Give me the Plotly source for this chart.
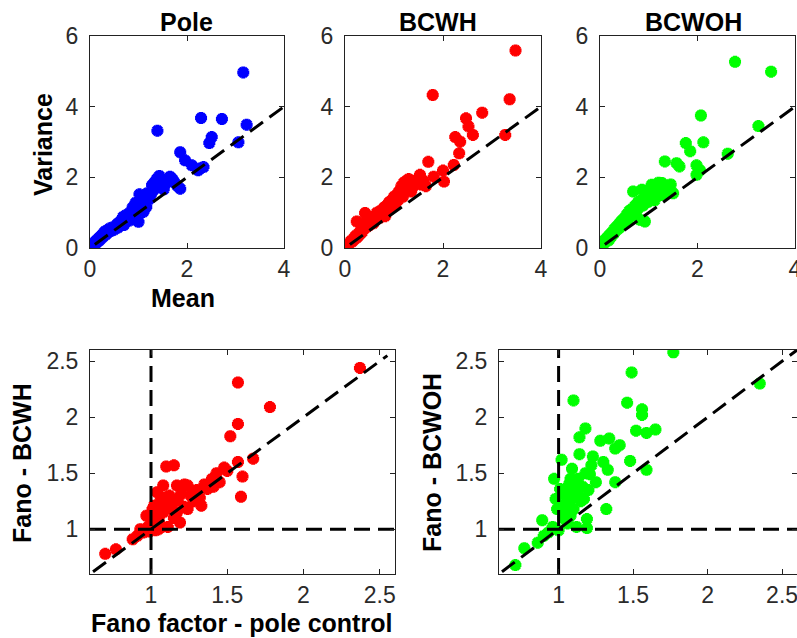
import plotly.graph_objects as go

W, H = 797, 638

# ---------------- data ----------------
pole_mean = [0.00,0.03,0.05,0.07,0.09,0.10,0.12,0.14,0.16,0.18,0.20,0.22,0.24,0.26,0.28,0.30,0.33,0.35,0.38,0.40,
             0.43,0.46,0.50,0.53,0.56,0.58,0.62,0.65,0.68,0.70,0.73,0.76,0.80,0.82,0.86,0.88,0.90,0.94,0.97,1.00,
             1.02,1.05,1.08,1.10,1.12,1.16,1.18,1.22,1.25,1.28,1.30,1.33,1.36,1.38,1.40,1.43,1.46,1.48,1.52,1.56,
             1.60,1.65,1.70,1.74,1.80,1.86,1.39,1.86,1.96,2.10,2.27,2.23,2.34,2.29,2.46,2.51,2.72,3.06,3.16,3.23]
pole_var = [0.03,0.05,0.08,0.12,0.10,0.16,0.20,0.15,0.24,0.28,0.22,0.32,0.36,0.30,0.40,0.46,0.38,0.50,0.45,0.55,
            0.48,0.58,0.52,0.62,0.68,0.58,0.75,0.70,0.88,0.65,0.92,0.80,0.98,0.78,1.05,1.15,0.90,1.28,1.08,0.74,
            1.52,1.40,1.22,1.02,1.32,1.16,1.55,1.38,1.50,1.78,1.62,1.86,1.70,1.96,1.82,2.04,1.76,1.92,1.66,1.82,
            1.92,2.02,1.95,1.86,1.76,1.68,3.32,2.71,2.48,2.34,2.25,2.20,2.29,3.68,2.97,3.14,3.65,2.99,4.97,3.49]

bcwh_mean = [0.00,0.03,0.06,0.10,0.12,0.15,0.18,0.20,0.22,0.24,0.25,0.28,0.30,0.33,0.35,0.38,0.40,0.41,0.42,0.44,
             0.45,0.48,0.50,0.55,0.58,0.60,0.62,0.65,0.70,0.72,0.75,0.78,0.80,0.82,0.85,0.88,0.90,0.92,0.95,0.98,
             1.00,1.02,1.05,1.08,1.10,1.12,1.15,1.18,1.20,1.22,1.25,1.26,1.28,1.30,1.32,1.35,1.38,1.40,1.45,1.50,
             1.53,1.55,1.60,1.65,1.70,1.81,2.00,2.02,2.22,2.33,2.25,2.35,2.47,2.52,2.61,2.80,3.27,3.36,3.48,1.79]
bcwh_var = [0.03,0.05,0.10,0.15,0.20,0.18,0.28,0.25,0.35,0.75,0.30,0.42,0.38,0.50,0.45,0.62,0.55,0.99,0.70,0.93,
            0.60,0.75,0.65,0.80,0.70,0.90,0.78,1.00,0.85,1.05,0.95,1.03,1.15,0.90,1.20,1.05,1.30,1.10,1.35,1.20,
            1.45,1.25,1.50,1.35,1.60,1.55,1.75,1.45,1.85,1.65,1.90,1.88,1.70,1.95,1.80,1.60,1.90,1.75,1.85,1.95,
            2.07,1.80,1.90,1.75,2.44,2.02,2.19,1.88,2.35,2.68,3.14,3.01,3.67,3.44,3.20,3.83,3.20,4.21,5.59,4.33]

bcwoh_mean = [0.00,0.03,0.06,0.08,0.10,0.12,0.15,0.18,0.20,0.22,0.25,0.28,0.30,0.32,0.35,0.38,0.40,0.42,0.45,0.48,
              0.50,0.52,0.55,0.58,0.60,0.62,0.65,0.68,0.70,0.72,0.75,0.78,0.80,0.82,0.85,0.86,0.88,0.90,0.92,0.95,
              0.98,1.00,1.02,1.05,1.06,1.08,1.10,1.12,1.15,1.18,1.20,1.22,1.25,1.27,1.30,1.33,1.35,1.40,1.45,1.50,
              1.33,1.57,1.63,1.76,1.85,1.98,1.98,2.07,2.12,2.62,2.77,3.25,3.51,2.05]
bcwoh_var = [0.03,0.08,0.12,0.20,0.15,0.25,0.30,0.22,0.38,0.30,0.45,0.40,0.55,0.48,0.62,0.55,0.70,0.60,0.78,0.68,
             0.85,0.75,0.95,0.82,1.05,0.90,1.10,1.60,0.95,1.20,1.05,1.30,1.15,0.80,1.35,1.65,1.20,1.40,0.75,1.50,
             1.30,1.55,1.40,1.70,1.79,1.50,1.60,1.35,1.75,1.55,1.85,1.65,1.50,1.84,1.70,1.55,1.75,1.65,1.80,1.55,
             2.45,2.40,2.31,2.97,2.74,2.34,2.07,3.75,2.99,2.67,5.27,3.45,4.99,2.20]

fano_pole_a = [0.70,0.77,0.88,0.91,0.93,0.95,0.97,0.98,0.99,1.00,1.01,1.02,1.03,1.04,1.04,1.05,1.06,1.07,1.08,1.08,
               1.09,1.10,1.10,1.11,1.12,1.13,1.15,1.15,1.16,1.17,1.17,1.19,1.20,1.22,1.22,1.24,1.24,1.26,1.28,1.30,
               1.32,1.33,1.35,1.37,1.40,1.41,1.43,1.45,1.48,1.50,1.52,1.57,1.57,1.57,1.59,1.60,1.67,1.78,2.37,
               1.02,1.06,1.09,1.12,1.14,1.18,1.05]
fano_bcwh = [0.78,0.82,0.91,0.94,1.00,0.97,1.12,1.02,0.98,1.05,1.18,1.21,0.99,1.12,1.33,1.08,1.25,1.02,1.39,1.15,
             1.28,1.56,1.22,1.02,1.30,1.18,1.57,1.10,1.25,1.39,1.15,1.06,1.32,1.40,1.20,1.18,1.39,1.30,1.25,1.35,
             1.28,1.21,1.40,1.36,1.45,1.38,1.50,1.42,1.55,1.52,1.83,1.94,1.60,2.31,1.29,1.47,1.63,2.09,2.44,
             1.10,1.16,1.20,1.26,1.22,1.28,1.00]

fano_pole_b = [0.71,0.77,0.86,0.89,0.90,0.93,0.96,0.97,0.98,0.99,1.00,1.01,1.02,1.03,1.04,1.05,1.06,1.06,1.07,1.08,
               1.08,1.09,1.09,1.10,1.10,1.11,1.12,1.12,1.13,1.14,1.14,1.15,1.16,1.17,1.18,1.18,1.19,1.19,1.20,1.21,
               1.22,1.23,1.25,1.28,1.30,1.32,1.33,1.34,1.38,1.38,1.41,1.46,1.48,1.49,1.52,1.56,1.56,1.59,1.59,1.65,
               1.77,2.35,1.03,1.07,1.11,1.05,1.13]
fano_bcwoh = [0.68,0.83,0.88,1.08,0.94,0.97,1.02,1.45,1.27,1.18,0.99,1.36,1.62,1.10,1.22,1.30,1.24,1.05,1.40,1.45,
              1.12,1.54,1.32,2.15,1.18,1.28,1.36,1.02,1.45,1.67,1.82,1.25,1.38,1.27,1.90,1.50,1.09,1.01,1.35,1.49,
              1.57,1.65,1.42,1.79,1.60,1.18,1.53,1.81,1.72,1.42,1.75,2.13,1.61,2.40,1.88,2.07,2.02,1.53,1.86,1.89,
              2.58,2.30,1.33,1.20,1.42,1.15,1.30]

diag_top = [0.1, 4.0]
diag_bl = [0.62, 2.55]
diag_br = [0.62, 2.6]
ref_one = 1.0
fano_range = [0.6, 2.6]

# ---------------- layout helpers ----------------
def dx(a, b):
    return [a / W, b / W]

def dy(top, bottom):
    return [1 - bottom / H, 1 - top / H]

FONT = "Liberation Sans, Arial, sans-serif"
axis_common = dict(showline=True, mirror="ticks", ticks="inside", ticklen=5, tickwidth=1,
                   linecolor="#222", linewidth=1, tickcolor="#222", showgrid=False, zeroline=False,
                   automargin=False, ticklabeloverflow="allow",
                   tickfont=dict(family=FONT, size=23, color="#2a2a2a"))
xaxis_common = dict(axis_common, ticklabelstandoff=0)
yaxis_common = dict(axis_common, ticklabelstandoff=6)

fig = go.Figure()

BLUE, RED, GREEN = "#0000ff", "#ff0000", "#00ff00"
marker = lambda c: dict(symbol="asterisk-open", size=10, color=c, line=dict(color=c, width=4))
dash = dict(color="black", width=3, dash="16px,8px")

panels = [
    ("x", "y", pole_mean, pole_var, BLUE),
    ("x2", "y2", bcwh_mean, bcwh_var, RED),
    ("x3", "y3", bcwoh_mean, bcwoh_var, GREEN),
]
for xa, ya, xs, ys, c in panels:
    fig.add_trace(go.Scatter(x=xs, y=ys, mode="markers", marker=marker(c), xaxis=xa, yaxis=ya,
                             showlegend=False, hoverinfo="skip"))
    fig.add_trace(go.Scatter(x=diag_top, y=diag_top, mode="lines", line=dash, xaxis=xa, yaxis=ya,
                             showlegend=False, hoverinfo="skip"))

bottom = [
    ("x4", "y4", fano_pole_a, fano_bcwh, RED, diag_bl),
    ("x5", "y5", fano_pole_b, fano_bcwoh, GREEN, diag_br),
]
for xa, ya, xs, ys, c, dg in bottom:
    fig.add_trace(go.Scatter(x=xs, y=ys, mode="markers", marker=marker(c), xaxis=xa, yaxis=ya,
                             showlegend=False, hoverinfo="skip"))
    fig.add_trace(go.Scatter(x=dg, y=dg, mode="lines", line=dash, xaxis=xa, yaxis=ya,
                             showlegend=False, hoverinfo="skip"))
    fig.add_trace(go.Scatter(x=fano_range, y=[ref_one, ref_one], mode="lines", line=dash,
                             xaxis=xa, yaxis=ya, showlegend=False, hoverinfo="skip"))
    fig.add_trace(go.Scatter(x=[ref_one, ref_one], y=fano_range, mode="lines", line=dash,
                             xaxis=xa, yaxis=ya, showlegend=False, hoverinfo="skip"))

top_x_ticks = dict(range=[0, 4], tickvals=[0, 2, 4], ticktext=["0", "2", "4"])
top_y_ticks = dict(range=[0, 6], tickvals=[0, 2, 4, 6], ticktext=["0", "2", "4", "6"])
fano_ticks = dict(range=fano_range, tickvals=[1, 1.5, 2, 2.5], ticktext=["1", "1.5", "2", "2.5"])

fig.update_layout(
    width=W, height=H, margin=dict(l=0, r=0, t=0, b=0),
    paper_bgcolor="white", plot_bgcolor="white",
    xaxis=dict(domain=dx(90, 284), anchor="y", **top_x_ticks, **xaxis_common),
    yaxis=dict(domain=dy(36, 248), anchor="x", **top_y_ticks, **yaxis_common),
    xaxis2=dict(domain=dx(345, 541), anchor="y2", **top_x_ticks, **xaxis_common),
    yaxis2=dict(domain=dy(36, 248), anchor="x2", **top_y_ticks, **yaxis_common),
    xaxis3=dict(domain=dx(600, 795), anchor="y3", **top_x_ticks, **xaxis_common),
    yaxis3=dict(domain=dy(36, 248), anchor="x3", **top_y_ticks, **yaxis_common),
    xaxis4=dict(domain=dx(90, 395), anchor="y4", **fano_ticks, **xaxis_common),
    yaxis4=dict(domain=dy(350, 574), anchor="x4", **fano_ticks, **yaxis_common),
    xaxis5=dict(domain=dx(499, 797), anchor="y5", **fano_ticks, **xaxis_common),
    yaxis5=dict(domain=dy(350, 574), anchor="x5", **fano_ticks, **yaxis_common),
)

def label(text, x, y, angle=0):
    fig.add_annotation(text="<b>%s</b>" % text, x=x / W, y=1 - y / H, xref="paper", yref="paper",
                       showarrow=False, textangle=angle, xanchor="center", yanchor="middle",
                       font=dict(family=FONT, size=25, color="black"))

label("Pole", 186, 22)
label("BCWH", 438, 22)
label("BCWOH", 693, 22)
label("Variance", 43, 145, -90)
label("Mean", 183, 298)
label("Fano - BCWH", 22, 463, -90)
label("Fano - BCWOH", 432, 463, -90)
label("Fano factor - pole control", 241, 623)

fig.write_html("out.html", config={"displayModeBar": False},
               post_script="document.body.style.margin='0';document.body.style.overflow='hidden';")
